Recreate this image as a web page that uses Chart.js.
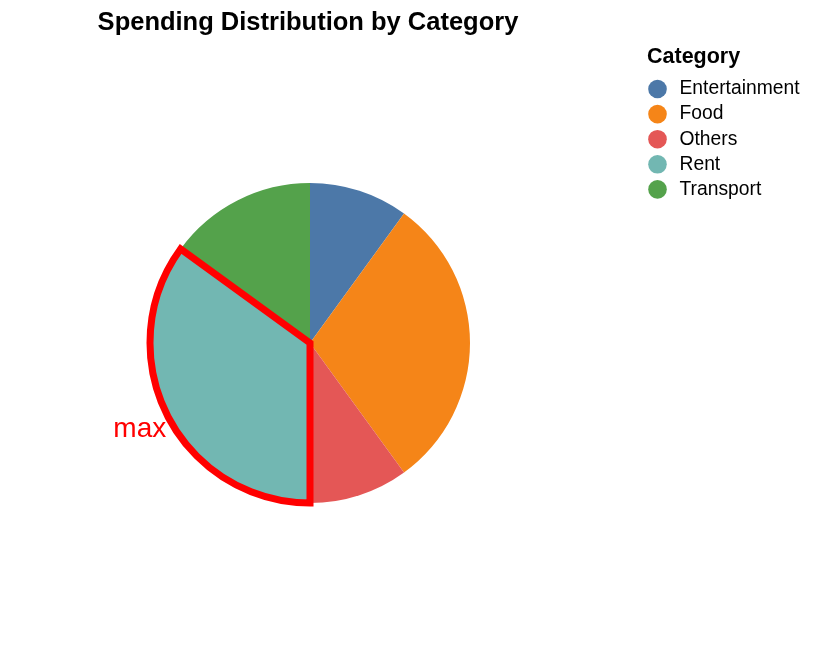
<!DOCTYPE html>
<html>
<head>
<meta charset="utf-8">
<script src="https://cdn.jsdelivr.net/npm/chart.js@4"></script>
<style>
  html, body { margin: 0; padding: 0; background: #fff; }
  #wrap { width: 814px; height: 654px; position: relative; }
</style>
</head>
<body>
<div id="wrap"><canvas id="pie"></canvas></div>
<script>
// datos (porcentaje del gasto)
var categories = ["Entertainment", "Food", "Others", "Rent", "Transport"];
var values = [10, 30, 10, 35, 15];
var colors = ["#4c78a8", "#f58518", "#e45756", "#72b7b2", "#54a24b"];

var chartTitle = "Spending Distribution by Category";
var legendTitle = "Category";
var maxLabel = "max";

var FONT = '"Liberation Sans", Arial, Helvetica, sans-serif';

/*
* Dibuja el borde rojo de la porcion mayor, la etiqueta "max", el titulo y la leyenda
*/
var overlay = {
  id: "overlay",
  afterDatasetsDraw: function(chart) {
    var ctx = chart.ctx;
    var meta = chart.getDatasetMeta(0);
    var maxIdx = values.indexOf(Math.max.apply(null, values));
    var arc = meta.data[maxIdx];
    var p = arc.getProps(["x", "y", "startAngle", "endAngle", "outerRadius"], true);

    ctx.save();
    ctx.beginPath();
    ctx.moveTo(p.x, p.y);
    ctx.arc(p.x, p.y, p.outerRadius, p.startAngle, p.endAngle);
    ctx.closePath();
    ctx.lineWidth = 7;
    ctx.lineJoin = "miter";
    ctx.strokeStyle = "#ff0000";
    ctx.stroke();

    // etiqueta en el angulo medio, un poco fuera del radio
    var mid = (p.startAngle + p.endAngle) / 2;
    var r = p.outerRadius + 31;
    ctx.fillStyle = "#ff0000";
    ctx.font = "28px " + FONT;
    ctx.textAlign = "center";
    ctx.textBaseline = "middle";
    ctx.fillText(maxLabel, p.x + Math.cos(mid) * r, p.y + Math.sin(mid) * r);
    ctx.restore();
  },
  afterDraw: function(chart) {
    var ctx = chart.ctx;
    ctx.save();

    // titulo
    ctx.fillStyle = "#000";
    ctx.font = "bold 25.5px " + FONT;
    ctx.textAlign = "center";
    ctx.textBaseline = "alphabetic";
    ctx.fillText(chartTitle, 308, 29.5);

    // leyenda
    ctx.textAlign = "left";
    ctx.font = "bold 21.5px " + FONT;
    ctx.fillText(legendTitle, 647, 62.5);

    ctx.font = "19.3px " + FONT;
    ctx.textBaseline = "middle";
    for (var i = 0; i < categories.length; i++) {
      var yy = 89 + i * 25.1;
      ctx.beginPath();
      ctx.arc(657.5, yy, 9.3, 0, Math.PI * 2);
      ctx.fillStyle = colors[i];
      ctx.fill();
      ctx.fillStyle = "#000";
      ctx.fillText(categories[i], 679.5, yy);
    }
    ctx.restore();
  }
};

new Chart(document.getElementById("pie"), {
  type: "pie",
  data: {
    labels: categories,
    datasets: [{
      data: values,
      backgroundColor: colors,
      borderWidth: 0
    }]
  },
  options: {
    responsive: true,
    maintainAspectRatio: false,
    animation: false,
    events: [],
    layout: {
      padding: { left: 150, right: 344, top: 183, bottom: 151 }
    },
    plugins: {
      legend: { display: false },
      title: { display: false },
      tooltip: { enabled: false }
    }
  },
  plugins: [overlay]
});
</script>
</body>
</html>
